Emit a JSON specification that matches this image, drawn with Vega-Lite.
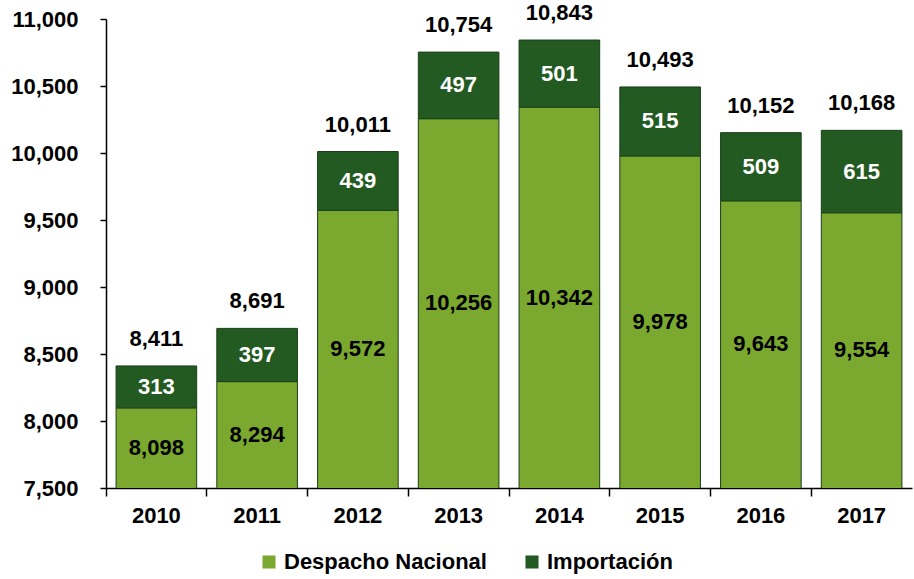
{
  "$schema": "https://vega.github.io/schema/vega-lite/v6.json",
  "width": 806,
  "height": 469,
  "autosize": {"type": "none"},
  "padding": {"left": 106, "top": 19, "right": 2, "bottom": 91},
  "background": "white",
  "config": {
    "view": {"stroke": null},
    "font": "Liberation Sans"
  },
  "datasets": {
    "main": [
      {"year": "2010", "serie": "Despacho Nacional", "valor": 8098},
      {"year": "2010", "serie": "Importación", "valor": 313},
      {"year": "2011", "serie": "Despacho Nacional", "valor": 8294},
      {"year": "2011", "serie": "Importación", "valor": 397},
      {"year": "2012", "serie": "Despacho Nacional", "valor": 9572},
      {"year": "2012", "serie": "Importación", "valor": 439},
      {"year": "2013", "serie": "Despacho Nacional", "valor": 10256},
      {"year": "2013", "serie": "Importación", "valor": 497},
      {"year": "2014", "serie": "Despacho Nacional", "valor": 10342},
      {"year": "2014", "serie": "Importación", "valor": 501},
      {"year": "2015", "serie": "Despacho Nacional", "valor": 9978},
      {"year": "2015", "serie": "Importación", "valor": 515},
      {"year": "2016", "serie": "Despacho Nacional", "valor": 9643},
      {"year": "2016", "serie": "Importación", "valor": 509},
      {"year": "2017", "serie": "Despacho Nacional", "valor": 9554},
      {"year": "2017", "serie": "Importación", "valor": 615}
    ],
    "totales": [
      {"year": "2010", "total": 8411},
      {"year": "2011", "total": 8691},
      {"year": "2012", "total": 10011},
      {"year": "2013", "total": 10754},
      {"year": "2014", "total": 10843},
      {"year": "2015", "total": 10493},
      {"year": "2016", "total": 10152},
      {"year": "2017", "total": 10168}
    ]
  },
  "layer": [
    {
      "data": {"name": "main"},
      "transform": [
        {"calculate": "datum.serie === 'Despacho Nacional' ? 0 : 1", "as": "orden"}
      ],
      "mark": {"type": "bar", "clip": true, "width": {"band": 0.8}, "stroke": "#1B3F18", "strokeWidth": 1},
      "encoding": {
        "x": {
          "field": "year", "type": "nominal",
          "scale": {"paddingInner": 0, "paddingOuter": 0},
          "axis": {
            "title": null, "labelAngle": 0, "bandPosition": 0,
            "domainColor": "black", "domainWidth": 1.5, "tickColor": "black", "tickSize": 8, "tickWidth": 1.5,
            "labelFont": "Liberation Sans", "labelFontWeight": "bold", "labelFontSize": 22, "labelColor": "black",
            "labelPadding": 9
          }
        },
        "y": {
          "field": "valor", "type": "quantitative", "stack": "zero",
          "scale": {"domain": [7500, 11000], "zero": false, "nice": false},
          "axis": {
            "title": null, "values": [7500, 8000, 8500, 9000, 9500, 10000, 10500, 11000],
            "format": ",.0f", "grid": false,
            "domainColor": "black", "domainWidth": 1.5, "tickColor": "black", "tickSize": 6, "tickWidth": 1.5,
            "labelFont": "Liberation Sans", "labelFontWeight": "bold", "labelFontSize": 22, "labelColor": "black",
            "labelPadding": 22
          }
        },
        "color": {
          "field": "serie", "type": "nominal",
          "scale": {"domain": ["Despacho Nacional", "Importación"], "range": ["#7BA82F", "#235A22"]},
          "legend": {
            "title": null, "orient": "none", "direction": "horizontal",
            "legendX": 152, "legendY": 532,
            "symbolType": "square", "symbolSize": 170, "symbolStrokeWidth": 0,
            "labelFont": "Liberation Sans", "labelFontWeight": "bold", "labelFontSize": 22, "labelColor": "black",
            "labelOffset": 4, "columnPadding": 34, "labelLimit": 400
          }
        },
        "order": {"field": "orden", "type": "quantitative"}
      }
    },
    {
      "data": {"name": "main"},
      "transform": [
        {"calculate": "datum.serie === 'Despacho Nacional' ? 0 : 1", "as": "orden"},
        {"stack": "valor", "groupby": ["year"], "sort": [{"field": "orden"}], "as": ["v0", "v1"]},
        {"calculate": "(max(datum.v0, 7500) + datum.v1) / 2", "as": "mid"}
      ],
      "mark": {"type": "text", "fontWeight": "bold", "fontSize": 22, "font": "Liberation Sans", "baseline": "middle", "align": "center"},
      "encoding": {
        "x": {"field": "year", "type": "nominal"},
        "y": {"field": "mid", "type": "quantitative"},
        "text": {"field": "valor", "type": "quantitative", "format": ","},
        "color": {
          "condition": {"test": "datum.serie === 'Importación'", "value": "white"},
          "value": "black"
        }
      }
    },
    {
      "data": {"name": "totales"},
      "mark": {"type": "text", "fontWeight": "bold", "fontSize": 22, "font": "Liberation Sans", "baseline": "middle", "align": "center", "dy": -27, "color": "black"},
      "encoding": {
        "x": {"field": "year", "type": "nominal"},
        "y": {"field": "total", "type": "quantitative"},
        "text": {"field": "total", "type": "quantitative", "format": ","}
      }
    }
  ]
}
